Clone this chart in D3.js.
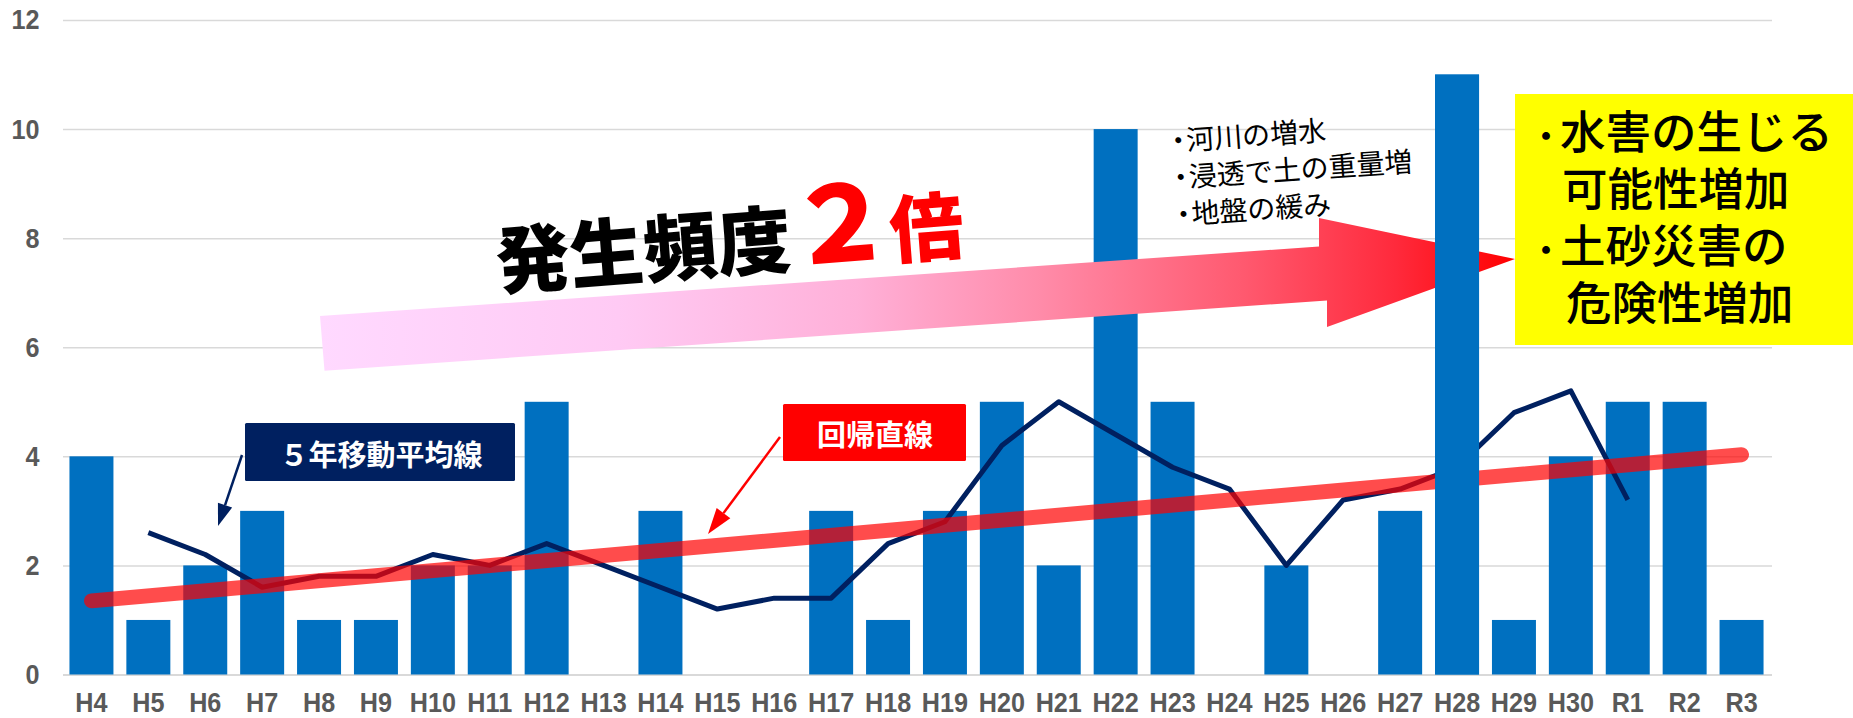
<!DOCTYPE html>
<html>
<head>
<meta charset="utf-8">
<title>発生頻度</title>
<script src="https://cdn.jsdelivr.net/npm/d3@7"></script>
<style>
    body { margin: 0; background: #fff; }
    svg { display: block; font-family: "Noto Sans CJK JP", "Liberation Sans", sans-serif; }
</style>
</head>
<body>
<svg id="chart" width="1853" height="718"></svg>
<script>
    // data
    const years = ["H4", "H5", "H6", "H7", "H8", "H9", "H10", "H11", "H12", "H13", "H14", "H15",
        "H16", "H17", "H18", "H19", "H20", "H21", "H22", "H23", "H24", "H25", "H26", "H27",
        "H28", "H29", "H30", "R1", "R2", "R3"];
    const counts = [4, 1, 2, 3, 1, 1, 2, 2, 5, 0, 3, 0, 0, 3, 1, 3, 5, 2, 10, 5, 0, 2, 0, 3, 11, 1, 4, 5, 5, 1];
    // 5年移動平均線 (no value at H4, R2, R3)
    const movingAvg = [null, 2.6, 2.2, 1.6, 1.8, 1.8, 2.2, 2.0, 2.4, 2.0, 1.6, 1.2, 1.4, 1.4, 2.4,
        2.8, 4.2, 5.0, 4.4, 3.8, 3.4, 2.0, 3.2, 3.4, 3.8, 4.8, 5.2, 3.2, null, null];
    // 回帰直線: value at first and last year
    const regressionYears = ["H4", "R3"];
    const regressionValues = [1.35, 4.03];
    const yTicks = [0, 2, 4, 6, 8, 10, 12];
    const frontBars = ["H28"]; // this bar sits above the big arrow

    const smallNotes = ["河川の増水", "浸透で土の重量増", "地盤の緩み"];
    const yellowLines = [
        {bullet: true, text: "水害の生じる"},
        {bullet: false, text: "可能性増加"},
        {bullet: true, text: "土砂災害の"},
        {bullet: false, text: "危険性増加"}
    ];

    const svg = d3.select("#chart");
    const plotLeft = 63, plotRight = 1772, plotTop = 20, plotBottom = 674.5;

    const x = d3.scaleBand().domain(years).range([plotLeft, 1770])
        .paddingInner(0.227).paddingOuter(0.1135);
    const y = d3.scaleLinear().domain([0, 12]).range([plotBottom, plotTop]);
    const cx = d => x(d) + x.bandwidth() / 2;

    // gridlines + y labels
    const yAxis = svg.append("g")
        .attr("transform", `translate(${plotLeft},0)`)
        .call(d3.axisLeft(y).tickValues(yTicks).tickSize(-(plotRight - plotLeft)).tickPadding(26));
    yAxis.select(".domain").remove();
    yAxis.selectAll(".tick line")
        .attr("stroke", "#d9d9d9")
        .attr("stroke-width", d => d === 0 ? 2.2 : 1.5);
    yAxis.selectAll(".tick text")
        .attr("fill", "#595959")
        .style("font-family", "'Liberation Sans', Arial, sans-serif")
        .style("font-size", "28px")
        .style("font-weight", "bold")
        .attr("transform", "scale(0.9,1)");

    // x labels
    const xAxis = svg.append("g")
        .attr("transform", `translate(0,${plotBottom})`)
        .call(d3.axisBottom(x).tickSize(0).tickPadding(18));
    xAxis.select(".domain").remove();
    xAxis.selectAll(".tick text")
        .attr("fill", "#595959")
        .style("font-family", "'Liberation Sans', Arial, sans-serif")
        .style("font-size", "28px")
        .style("font-weight", "bold")
        .attr("transform", "scale(0.9,1)");

    const data = years.map((yr, i) => ({year: yr, count: counts[i], avg: movingAvg[i]}));

    // bars
    svg.append("g").selectAll("rect")
        .data(data)
        .join("rect")
        .attr("x", d => x(d.year))
        .attr("y", d => y(d.count))
        .attr("width", x.bandwidth())
        .attr("height", d => y(0) - y(d.count))
        .attr("fill", "#0070c0");

    // moving average
    const avgLine = d3.line()
        .defined(d => d.avg != null)
        .x(d => cx(d.year))
        .y(d => y(d.avg));
    svg.append("path")
        .datum(data)
        .attr("d", avgLine)
        .attr("fill", "none")
        .attr("stroke", "#002060")
        .attr("stroke-width", 5)
        .attr("stroke-linejoin", "round");

    // regression line
    svg.append("path")
        .datum(regressionYears.map((yr, i) => [cx(yr), y(regressionValues[i])]))
        .attr("d", d3.line())
        .attr("stroke", "rgba(255,0,0,0.7)")
        .attr("stroke-width", 15)
        .attr("stroke-linecap", "round");

    // small arrow helper
    function arrow(x1, y1, x2, y2, color, w, headLen, headW) {
        const a = Math.atan2(y2 - y1, x2 - x1);
        const bx = x2 - headLen * Math.cos(a), by = y2 - headLen * Math.sin(a);
        svg.append("line")
            .attr("x1", x1).attr("y1", y1).attr("x2", bx).attr("y2", by)
            .attr("stroke", color).attr("stroke-width", w);
        const px = Math.sin(a) * headW / 2, py = -Math.cos(a) * headW / 2;
        svg.append("path")
            .attr("d", `M${x2},${y2}L${bx + px},${by + py}L${bx - px},${by - py}Z`)
            .attr("fill", color);
    }

    // label boxes
    svg.append("rect").attr("x", 245).attr("y", 423).attr("width", 270).attr("height", 58)
        .attr("rx", 1.5).attr("fill", "#002060");
    svg.append("text").attr("x", 381).attr("y", 453)
        .attr("text-anchor", "middle").attr("dominant-baseline", "central")
        .attr("fill", "#fff").style("font-size", "29px").style("font-weight", 700)
        .text("５年移動平均線");
    arrow(242, 455, 218, 526, "#002060", 2.5, 22, 15);

    svg.append("rect").attr("x", 783).attr("y", 404).attr("width", 183).attr("height", 57)
        .attr("rx", 1.5).attr("fill", "#ff0000");
    svg.append("text").attr("x", 875).attr("y", 433)
        .attr("text-anchor", "middle").attr("dominant-baseline", "central")
        .attr("fill", "#fff").style("font-size", "29px").style("font-weight", 700)
        .text("回帰直線");
    arrow(780, 437, 708, 534, "#ff0000", 2.5, 26, 17);

    // big gradient arrow
    const grad = svg.append("defs").append("linearGradient")
        .attr("id", "bigArrow")
        .attr("gradientUnits", "userSpaceOnUse")
        .attr("x1", 320).attr("y1", 0).attr("x2", 1515).attr("y2", 0);
    [[0, "#ffd9ff"], [0.25, "#ffcaf4"], [0.45, "#ffb0d8"], [0.6, "#ff8caa"],
        [0.77, "#ff5a70"], [0.9, "#ff2a3c"], [1, "#ff0000"]].forEach(s => {
        grad.append("stop").attr("offset", s[0]).attr("stop-color", s[1]);
    });
    svg.append("path")
        .attr("d", "M320,316 L1319,246.5 L1319,218 L1515,259 L1327,327 L1327,300.5 L324.5,370.7 Z")
        .attr("fill", "url(#bigArrow)");

    // headline
    const head = svg.append("text")
        .attr("x", 498).attr("y", 289)
        .attr("transform", "rotate(-4.5,498,289)")
        .style("font-weight", 900);
    head.append("tspan").style("font-size", "74px").attr("fill", "#000").text("発生頻度");
    head.append("tspan").style("font-size", "105px").attr("fill", "#ff0000").attr("dx", -2).text("２");
    head.append("tspan").style("font-size", "74px").attr("fill", "#ff0000").attr("dx", -4).text("倍");

    // small notes
    const notes = svg.append("g").attr("transform", "translate(1175,151) rotate(-4)");
    smallNotes.forEach((t, i) => {
        const line = notes.append("text").attr("y", i * 37)
            .style("font-size", "28px").style("font-weight", 400).attr("fill", "#000");
        line.append("tspan").attr("x", -10).text("・");
        line.append("tspan").attr("x", 12).text(t);
    });

    // yellow box
    svg.append("rect").attr("x", 1515).attr("y", 94).attr("width", 338).attr("height", 251)
        .attr("fill", "#ffff00");
    const lineX = [1560, 1562, 1560, 1566];
    yellowLines.forEach((l, i) => {
        const baseY = 149 + i * 57;
        if (l.bullet) {
            svg.append("text").attr("x", 1532).attr("y", baseY - 2)
                .style("font-size", "28px").style("font-weight", 900).attr("fill", "#000")
                .text("・");
        }
        svg.append("text").attr("x", lineX[i]).attr("y", baseY)
            .style("font-size", "45.5px").style("font-weight", 500).attr("fill", "#000")
            .text(l.text);
    });

    // bars drawn above the arrow
    svg.append("g").selectAll("rect")
        .data(data.filter(d => frontBars.includes(d.year)))
        .join("rect")
        .attr("x", d => x(d.year))
        .attr("y", d => y(d.count))
        .attr("width", x.bandwidth())
        .attr("height", d => y(0) - y(d.count))
        .attr("fill", "#0070c0");
</script>
</body>
</html>
